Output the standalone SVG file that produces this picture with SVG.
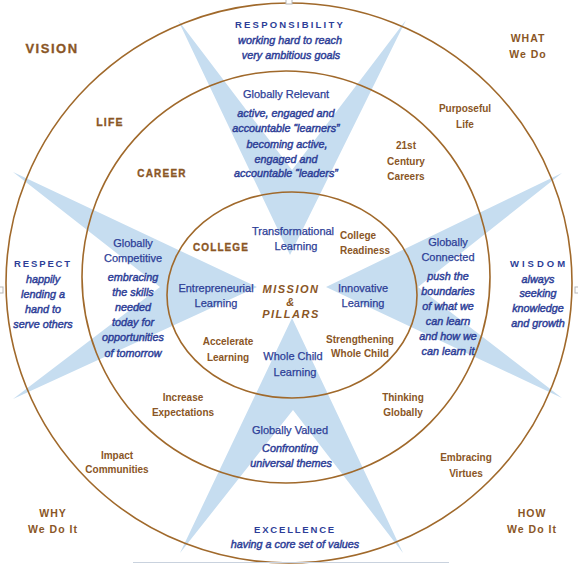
<svg xmlns="http://www.w3.org/2000/svg" width="578" height="564" viewBox="0 0 578 564">
<style>
.star{fill:#c6ddf0;stroke:none}
.ring{fill:none;stroke:#a0692b;stroke-width:1.6}
text{text-anchor:middle;font-family:"Liberation Sans",Arial,sans-serif}
.b{fill:#2d3e97;font-size:11px;stroke:#2d3e97;stroke-width:0.25}
.bi{fill:#2d3e97;font-size:10.8px;font-style:italic;stroke:#2d3e97;stroke-width:0.45}
.bh{fill:#2d3e97;font-size:9.5px;font-weight:bold}
.br{fill:#8a5626;font-size:10px;font-weight:bold}
.bc{fill:#8a5626;font-size:10.5px;font-weight:bold;letter-spacing:1px}
.hd{fill:#8a5626;font-weight:bold;stroke:#8a5626;stroke-width:0.3}
.mi{fill:#8a5626;font-size:11px;font-weight:bold;font-style:italic;letter-spacing:1.5px}
.handle{fill:#ffffff;stroke:#b8b8b8;stroke-width:1}
</style>
<rect width="578" height="564" fill="#ffffff"/>
<g id="star">
<path class="star" d="M178,20 L292,170 L406,20 L290,255 Z"/>
<path class="star" d="M180,553 L293,410 L403,553 L292,318 Z"/>
<path class="star" d="M13,172 L160,287 L13,399 L257,287 Z"/>
<path class="star" d="M562,173 L418,287 L562,398 L326,287 Z"/>
</g>
<g id="rings">
<ellipse class="ring" cx="289" cy="283" rx="283" ry="280"/>
<ellipse class="ring" cx="286" cy="277" rx="204" ry="206"/>
<ellipse class="ring" cx="292" cy="295" rx="125" ry="103"/>
</g>
<g id="frame">
<line x1="133" y1="562.5" x2="449" y2="562.5" stroke="#c9d2de" stroke-width="1.2"/>
<rect class="handle" x="286" y="-1" width="6" height="5"/>
<rect class="handle" x="-2" y="287" width="5" height="6"/>
<rect class="handle" x="575" y="287" width="5" height="6"/>
</g>
<g id="connectors"></g>
<g id="vision"><text class="hd" x="52" y="53" font-size="13" letter-spacing="1.5">VISION</text></g>
<g id="life"><text class="hd" x="110" y="126" font-size="10.5" letter-spacing="1.2">LIFE</text></g>
<g id="career"><text class="hd" x="162" y="177" font-size="10" letter-spacing="1.2">CAREER</text></g>
<g id="college"><text class="hd" x="221" y="251" font-size="10" letter-spacing="1.1">COLLEGE</text></g>
<g id="responsibility">
<text class="bh" x="290" y="27.5" letter-spacing="2.2">RESPONSIBILITY</text>
<text class="bi" x="290" y="44">working hard to reach</text>
<text class="bi" x="291" y="59">very ambitious goals</text>
</g>
<g id="globally-relevant">
<text class="b" x="286" y="98">Globally Relevant</text>
<text class="bi" x="286" y="117">active, engaged and</text>
<text class="bi" x="286" y="132">accountable “learners”</text>
<text class="bi" x="287" y="148">becoming active,</text>
<text class="bi" x="286" y="163">engaged and</text>
<text class="bi" x="286" y="177">accountable “leaders”</text>
</g>
<g id="what"><text class="bc" x="528" y="42">WHAT</text><text class="bc" x="528" y="58">We Do</text></g>
<g id="purposeful-life"><text class="br" x="465" y="112">Purposeful</text><text class="br" x="465" y="128">Life</text></g>
<g id="careers21"><text class="br" x="406" y="149">21st</text><text class="br" x="406" y="165">Century</text><text class="br" x="406" y="180">Careers</text></g>
<g id="respect">
<text class="bh" x="43" y="266.5" letter-spacing="1.9">RESPECT</text>
<text class="bi" x="43" y="283">happily</text>
<text class="bi" x="43" y="298">lending a</text>
<text class="bi" x="43" y="313">hand to</text>
<text class="bi" x="43" y="328">serve others</text>
</g>
<g id="globally-competitive">
<text class="b" x="133" y="247">Globally</text>
<text class="b" x="133" y="262">Competitive</text>
<text class="bi" x="133" y="281">embracing</text>
<text class="bi" x="133" y="296">the skills</text>
<text class="bi" x="133" y="311">needed</text>
<text class="bi" x="133" y="326">today for</text>
<text class="bi" x="133" y="341">opportunities</text>
<text class="bi" x="133" y="357">of tomorrow</text>
</g>
<g id="entrepreneurial"><text class="b" x="216" y="292">Entrepreneurial</text><text class="b" x="216" y="307">Learning</text></g>
<g id="accelerate"><text class="br" x="228" y="345">Accelerate</text><text class="br" x="228" y="361">Learning</text></g>
<g id="transformational"><text class="b" x="293" y="235">Transformational</text><text class="b" x="296" y="250">Learning</text></g>
<g id="college-readiness"><text class="br" x="340" y="239" style="text-anchor:start">College</text><text class="br" x="340" y="254" style="text-anchor:start">Readiness</text></g>
<g id="mission"><text class="mi" x="291" y="293">MISSION</text><text class="mi" x="291" y="306">&amp;</text><text class="mi" x="291" y="318">PILLARS</text></g>
<g id="innovative"><text class="b" x="363" y="292">Innovative</text><text class="b" x="363" y="307">Learning</text></g>
<g id="strengthening"><text class="br" x="360" y="343">Strengthening</text><text class="br" x="360" y="357">Whole Child</text></g>
<g id="whole-child"><text class="b" x="293" y="360">Whole Child</text><text class="b" x="295" y="376">Learning</text></g>
<g id="globally-connected">
<text class="b" x="448" y="246">Globally</text>
<text class="b" x="448" y="261">Connected</text>
<text class="bi" x="448" y="280">push the</text>
<text class="bi" x="448" y="295">boundaries</text>
<text class="bi" x="448" y="310">of what we</text>
<text class="bi" x="448" y="325">can learn</text>
<text class="bi" x="448" y="340">and how we</text>
<text class="bi" x="448" y="355">can learn it</text>
</g>
<g id="wisdom">
<text class="bh" x="539" y="266.5" letter-spacing="3">WISDOM</text>
<text class="bi" x="538" y="283">always</text>
<text class="bi" x="538" y="297">seeking</text>
<text class="bi" x="538" y="312">knowledge</text>
<text class="bi" x="538" y="327">and growth</text>
</g>
<g id="increase"><text class="br" x="183" y="401">Increase</text><text class="br" x="183" y="416">Expectations</text></g>
<g id="impact"><text class="br" x="117" y="459">Impact</text><text class="br" x="117" y="473">Communities</text></g>
<g id="why"><text class="bc" x="53" y="517">WHY</text><text class="bc" x="53" y="533">We Do It</text></g>
<g id="thinking"><text class="br" x="403" y="401">Thinking</text><text class="br" x="403" y="416">Globally</text></g>
<g id="embracing"><text class="br" x="466" y="461">Embracing</text><text class="br" x="466" y="477">Virtues</text></g>
<g id="how"><text class="bc" x="532" y="517">HOW</text><text class="bc" x="532" y="533">We Do It</text></g>
<g id="globally-valued">
<text class="b" x="290" y="434">Globally Valued</text>
<text class="bi" x="290" y="452">Confronting</text>
<text class="bi" x="291" y="467">universal themes</text>
</g>
<g id="excellence">
<text class="bh" x="295" y="532.5" letter-spacing="1.8">EXCELLENCE</text>
<text class="bi" x="295" y="548">having a core set of values</text>
</g>
</svg>
